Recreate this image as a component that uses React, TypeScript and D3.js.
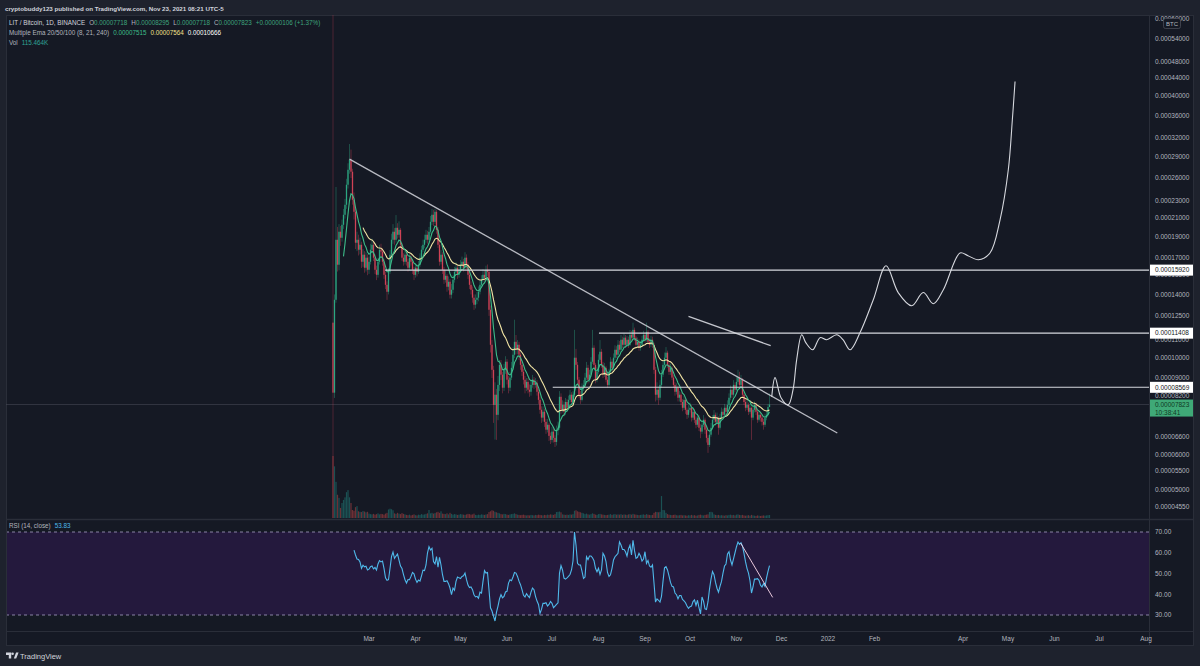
import React from "react";
import * as d3 from "d3";

// ---------- DATA (prices in satoshis, 1e-8 BTC) ----------
const firstDay = Date.UTC(2021, 1, 5);
const firstOpen = 12060;
const closes = [
8330, 13610, 18690, 16380, 19500, 18890, 20230, 21330, 22490, 25000,
27060, 28530, 26780, 23090, 21670, 18400, 18690, 17730, 18200, 16640,
17270, 16120, 17000, 15950, 16640, 17730, 18200, 17000, 15950, 15530,
16640, 17730, 17550, 16640, 15530, 14730, 14200, 15780, 17270, 18690,
19500, 18690, 19910, 19190, 19700, 18200, 17000, 16640, 17270, 16640,
16120, 17000, 16640, 15950, 15530, 16120, 15780, 16380, 17000, 17730,
18200, 18690, 19190, 18690, 19500, 20550, 21330, 20550, 21670, 19700,
18200, 16640, 17270, 15950, 15130, 15450, 14580, 14970, 13980, 14350,
15130, 15780, 16120, 15530, 15950, 16380, 16640, 16120, 17000, 16380,
15530, 14730, 14350, 13760, 13260, 13610, 13760, 14200, 14730, 15130,
15530, 15290, 15950, 15780, 12910, 10730, 9400, 7810, 8240, 7410,
8680, 9650, 9160, 8550, 9400, 9810, 8920, 8550, 9020, 9500,
10180, 10900, 10450, 10730, 10180, 9650, 9300, 8920, 8550, 8820,
8460, 8370, 8680, 8920, 8680, 8780, 8370, 8020, 7610, 7300,
7530, 7140, 6850, 7030, 6630, 6490, 6780, 6560, 6420, 6850,
6920, 8150, 7610, 7810, 7530, 7930, 7690, 8020, 8240, 7930,
8240, 10020, 9650, 8920, 8240, 8020, 8550, 8680, 9020, 9500,
8920, 9160, 9810, 10560, 9650, 8920, 9300, 9910, 10340, 9650,
9160, 9500, 8920, 8680, 9300, 9810, 9500, 10020, 10450, 10180,
10730, 10450, 11020, 10730, 11140, 10730, 11020, 10730, 11310, 11140,
11610, 11140, 10730, 10900, 10560, 10730, 11020, 11310, 11020, 11490,
10900, 10730, 11020, 10730, 9400, 8240, 8460, 8110, 8680, 9160,
9650, 10020, 10290, 9650, 9300, 9500, 9020, 8680, 8370, 8550,
8110, 8240, 7930, 7690, 8020, 7610, 7410, 7610, 7690, 7300,
7530, 7220, 7030, 7300, 6920, 6780, 7030, 7220, 6850, 6560,
6320, 6670, 6920, 7220, 7410, 7140, 7300, 6920, 7300, 7530,
7410, 7690, 7530, 7810, 8110, 8460, 8240, 8680, 8460, 8820,
9020, 8680, 8920, 8240, 7930, 7690, 7810, 7530, 7690, 7300,
7610, 7810, 7530, 7220, 7410, 7300, 7140, 7030, 7300, 7410,
7718, 7823,
];
const highs = [
90000, 14000, 24700, 20000, 20300, 20100, 20800, 22000, 23200, 25800,
28000, 31000, 30100, 27200, 24000, 22000, 19500, 19200, 18900, 18500,
17800, 17600, 17500, 17300, 17100, 18300, 18800, 18500, 17300, 16300,
17000, 18200, 18300, 17900, 16900, 15800, 15000, 16100, 17700, 19300,
20300, 19900, 21300, 20400, 20600, 19900, 18400, 17400, 17600, 17500,
16900, 17300, 17300, 16900, 16200, 16500, 16400, 16700, 17400, 18100,
18700, 19200, 19700, 19600, 20000, 21200, 22000, 21900, 22000, 21900,
20000, 18500, 17700, 17500, 16200, 15900, 15600, 15400, 15200, 14800,
15500, 16200, 16600, 16400, 16300, 16800, 17100, 16900, 17500, 17300,
16600, 15800, 15000, 14600, 14000, 14000, 14200, 14600, 15100, 15500,
16000, 15900, 16300, 16400, 16000, 13200, 11000, 9600, 8800, 8500,
9100, 9900, 9900, 9300, 9700, 10100, 9950, 9100, 9300, 9800,
10600, 12250, 11300, 11000, 10900, 10300, 9800, 9450, 9100, 9000,
9000, 8700, 8900, 9150, 9050, 9000, 8900, 8500, 8150, 7750,
7750, 7650, 7250, 7250, 7100, 6750, 6950, 6900, 6650, 7000,
7150, 8400, 8300, 8000, 7950, 8100, 8050, 8200, 8450, 8350,
8400, 11610, 10500, 9800, 9050, 8400, 8750, 8900, 9250, 9800,
9650, 9400, 10050, 11610, 10700, 9750, 9550, 10200, 11000, 10500,
9800, 9750, 9600, 9050, 9450, 10050, 9950, 10250, 10700, 10650,
11000, 10950, 11300, 11200, 11400, 11300, 11250, 11200, 11600, 11550,
12060, 11750, 11250, 11150, 11050, 10950, 11250, 11550, 11450, 12060,
11600, 11100, 11250, 11200, 10850, 9550, 8800, 8600, 8900, 9400,
9900, 10300, 10600, 10400, 9800, 9700, 9600, 9150, 8800, 8750,
8650, 8400, 8350, 8050, 8200, 8100, 7700, 7800, 7900, 7800,
7700, 7650, 7350, 7450, 7400, 7050, 7200, 7400, 7300, 6950,
6650, 6850, 7100, 7400, 7600, 7500, 7500, 7350, 7450, 7700,
7650, 7850, 7800, 8000, 8300, 8650, 8600, 8900, 8800, 9050,
9400, 9300, 9150, 9000, 8350, 8050, 8000, 7900, 7850, 7750,
7750, 7950, 7900, 7600, 7550, 7500, 7400, 7250, 7450, 7550,
7850, 8295,
];
const lows = [
3500, 8100, 13400, 15800, 15900, 18100, 18500, 19800, 20900, 22000,
24500, 26500, 25900, 22500, 20800, 17800, 17600, 17200, 17300, 16100,
16200, 15700, 15800, 15500, 15600, 16400, 17400, 16700, 15600, 15100,
15300, 16400, 17100, 16300, 15200, 14400, 13600, 14000, 15600, 17000,
18300, 18200, 18400, 18800, 18900, 17900, 16700, 16300, 16400, 16300,
15800, 15900, 16300, 15600, 15100, 15300, 15400, 15600, 16200, 16800,
17500, 17900, 18400, 18300, 18400, 19300, 20200, 20100, 20300, 19300,
17900, 16300, 16400, 15600, 14800, 14900, 14200, 14300, 13700, 13700,
14100, 14900, 15500, 15200, 15300, 15700, 16100, 15800, 15900, 16000,
15200, 14400, 14000, 13400, 12900, 13000, 13300, 13500, 14000, 14500,
14900, 15000, 15100, 15400, 12500, 10300, 9000, 7100, 6500, 6490,
7200, 8400, 8900, 8300, 8400, 9200, 8700, 8300, 8400, 8900,
9400, 10000, 10200, 10200, 9900, 9400, 9100, 8700, 8300, 8400,
8300, 8150, 8200, 8550, 8500, 8550, 8200, 7850, 7450, 7100,
7150, 6950, 6700, 6750, 6450, 6350, 6400, 6400, 6250, 6300,
6650, 6850, 7450, 7500, 7350, 7400, 7550, 7600, 7900, 7800,
7850, 8150, 9400, 8700, 8100, 7850, 7950, 8400, 8550, 8900,
8750, 8800, 9050, 9700, 9450, 8750, 8800, 9200, 9800, 9500,
9000, 9050, 8800, 8550, 8600, 9200, 9350, 9400, 9900, 10000,
10050, 10300, 10350, 10550, 10600, 10550, 10600, 10550, 10650, 10950,
11000, 10950, 10550, 10600, 10400, 10400, 10600, 10900, 10850, 10900,
10750, 10550, 10600, 10550, 9200, 7950, 8000, 7810, 8000, 8550,
9050, 9500, 9900, 9500, 9150, 9150, 8900, 8550, 8200, 8250,
7950, 7950, 7800, 7550, 7600, 7450, 7250, 7300, 7500, 7150,
7200, 7100, 6900, 6950, 6800, 6550, 6700, 6950, 6700, 6400,
6060, 6250, 6600, 6850, 7100, 7000, 7050, 6670, 6850, 7200,
7300, 7350, 7400, 7450, 7700, 8000, 8100, 8150, 8350, 8400,
8700, 8550, 8550, 8100, 7800, 7550, 7600, 7400, 7450, 6490,
7200, 7500, 7400, 7100, 7150, 7150, 7000, 6850, 6950, 7200,
7350, 7718,
];
// volume in thousands of LIT
const volumesK = [
2400, 2000, 1400, 900, 780, 390, 580, 700, 800, 1000,
1080, 800, 580, 310, 280, 420, 460, 260, 240, 230,
270, 250, 220, 240, 170, 150, 140, 160, 130, 150,
180, 140, 160, 150, 130, 170, 200, 330, 360, 340,
300, 180, 160, 200, 170, 150, 190, 160, 140, 120,
110, 130, 100, 120, 140, 110, 100, 130, 120, 150,
130, 140, 160, 180, 310, 180, 200, 170, 190, 220,
240, 200, 260, 170, 160, 150, 180, 140, 200, 160,
130, 150, 140, 120, 130, 150, 140, 130, 120, 140,
160, 150, 130, 140, 170, 120, 110, 130, 120, 140,
130, 120, 140, 150, 230, 260, 300, 280, 240, 220,
200, 180, 150, 140, 160, 150, 130, 120, 140, 150,
160, 180, 150, 130, 120, 110, 120, 130, 110, 100,
110, 100, 120, 110, 100, 120, 110, 130, 120, 110,
100, 120, 110, 130, 120, 140, 130, 120, 150, 230,
240, 250, 220, 140, 130, 120, 130, 120, 140, 130,
150, 280, 300, 260, 240, 220, 200, 180, 150, 170,
140, 130, 150, 180, 160, 130, 120, 150, 160, 140,
130, 120, 110, 120, 130, 150, 120, 140, 150, 130,
140, 130, 150, 120, 140, 130, 120, 140, 150, 130,
160, 140, 130, 120, 110, 120, 130, 140, 120, 150,
130, 120, 110, 120, 200, 240, 230, 220, 240, 850,
310, 300, 200, 150, 130, 120, 110, 120, 130, 110,
100, 110, 120, 100, 110, 100, 90, 110, 100, 120,
100, 110, 90, 100, 120, 130, 110, 100, 120, 130,
140, 230, 240, 220, 140, 120, 110, 120, 100, 110,
100, 90, 110, 100, 120, 130, 110, 120, 100, 130,
140, 120, 110, 120, 100, 90, 100, 110, 90, 120,
100, 90, 80, 100, 90, 80, 90, 100, 90, 100,
110, 115.464,
];
// RSI(14), from bar index 14 onward
const rsiStartIndex = 14;
const rsiValues = [
61.3, 58.9, 57.0, 56.8, 55.6, 52.5,
54.0, 53.2, 53.5, 51.7, 52.1, 53.3, 53.6, 52.2, 52.9, 51.7,
54.6, 56.2, 55.6, 56.0, 52.5, 47.9, 46.7, 47.0, 52.4, 58.1,
60.3, 57.3, 58.4, 59.4, 56.5, 53.6, 52.4, 49.5, 47.0, 45.4,
47.1, 47.0, 48.6, 50.5, 49.8, 47.3, 45.7, 46.8, 46.3, 48.9,
51.6, 51.4, 54.1, 60.0, 62.9, 61.3, 62.1, 55.7, 54.6, 58.1,
53.0, 57.8, 54.1, 49.4, 46.2, 46.2, 46.5, 45.1, 43.0, 39.8,
43.0, 41.9, 46.2, 48.3, 47.9, 47.6, 48.6, 48.9, 50.2, 47.0,
44.4, 43.2, 43.5, 42.2, 39.7, 38.7, 39.0, 38.1, 41.0, 40.6,
46.2, 51.4, 50.2, 50.5, 42.2, 33.5, 31.9, 29.5, 27.1, 31.4,
34.3, 37.8, 39.8, 38.3, 39.0, 41.1, 41.4, 45.4, 47.0, 46.5,
48.3, 50.5, 50.2, 48.6, 46.3, 44.6, 42.2, 39.5, 38.7, 40.3,
39.2, 38.4, 41.0, 43.0, 42.2, 39.0, 36.7, 35.1, 30.8, 32.7,
35.6, 35.6, 35.9, 34.3, 35.1, 36.5, 35.6, 33.5, 34.3, 35.1,
35.9, 50.2, 53.8, 51.7, 47.8, 47.3, 47.9, 48.6, 49.5, 51.7,
56.0, 70.0, 63.7, 54.9, 54.1, 54.1, 51.0, 47.6, 48.3, 58.1,
56.7, 58.4, 58.4, 57.6, 56.2, 52.5, 50.8, 52.5, 49.5, 51.7,
59.7, 58.4, 55.7, 50.5, 48.6, 49.4, 52.5, 56.5, 58.1, 58.9,
59.7, 65.2, 63.7, 61.6, 61.6, 60.5, 58.4, 61.9, 63.7, 58.9,
66.0, 61.0, 57.3, 57.8, 59.7, 58.4, 56.0, 57.0, 60.5, 54.9,
56.3, 53.6, 53.0, 54.1, 45.4, 36.2, 37.8, 37.1, 36.2, 39.0,
46.2, 52.7, 53.3, 51.7, 48.9, 45.7, 43.8, 43.5, 40.6, 39.8,
37.8, 39.4, 39.4, 37.5, 36.8, 35.9, 34.3, 33.2, 34.0, 34.3,
36.5, 37.3, 34.6, 37.1, 33.5, 30.5, 38.7, 36.7, 33.0, 32.7,
36.4, 42.5, 47.3, 51.0, 49.4, 45.7, 42.9, 41.0, 43.8, 46.2,
50.2, 53.6, 54.6, 59.4, 60.5, 56.5, 54.1, 57.0, 60.0, 62.9,
65.2, 64.0, 64.8, 63.2, 59.7, 55.7, 52.5, 50.2, 46.5, 40.6,
43.5, 47.3, 47.3, 47.5, 46.7, 44.4, 43.5, 45.1, 43.8, 47.8,
51.0, 53.83,
];

// axis ticks
const priceTicks = [
0.0006, 0.00054, 0.00048, 0.00044, 0.0004, 0.00036, 0.00032, 0.00029, 0.00026,
0.00023, 0.00021, 0.00019, 0.00017, 0.000155, 0.00014, 0.000125, 0.00011, 0.0001,
0.00009, 0.000082, 0.000066, 0.00006, 0.000055, 0.00005, 0.0000455,
];
const rsiTicks = [70, 60, 50, 40, 30];
const timeTickDates = [
"2021-03-01", "2021-04-01", "2021-05-01", "2021-06-01", "2021-07-01", "2021-08-01",
"2021-09-01", "2021-10-01", "2021-11-01", "2021-12-01", "2022-01-01", "2022-02-01",
"2022-04-01", "2022-05-01", "2022-06-01", "2022-07-01", "2022-08-01",
];
const timeTickLabels = ["Mar", "Apr", "May", "Jun", "Jul", "Aug", "Sep", "Oct", "Nov", "Dec", "2022", "Feb", "Apr", "May", "Jun", "Jul", "Aug"];

// drawings (anchors: days after 2021-03-01, price in BTC)
const trendDays = [-13, 312.2];
const trendPrices = [0.0002863, 0.0000673];
const shortDays = [213, 267.8];
const shortPrices = [0.0001247, 0.0001068];
const levelPrices = [0.0001592, 0.00011408, 0.00008569];
const levelStartDays = [10.7, 153.3, 122.5];
const rsiLineDays = [247.8, 269.1];
const rsiLineValues = [64.6, 38.5];
const projDays = [268.5, 270.7, 274.7, 279.5, 282.7, 285.1, 288.5, 291.3, 295.8, 300.7, 305.1, 311.8, 316, 320.7, 327.3, 336.2, 344.7, 352.9, 361.8, 369.5, 376.2, 382.9, 394, 399.3, 406.2, 414, 420.7, 426.2, 428.9, 430.7];
const projPrices = [8150, 9020, 8110, 7810, 8460, 9910, 11310, 10840, 10450, 11140, 11020, 11310, 11020, 10450, 11430, 13610, 16290, 14120, 13190, 14140, 13330, 14350, 17430, 17180, 16820, 17430, 20770, 27060, 35240, 43150];

const FONT = "'Liberation Sans', Arial, sans-serif";
const fmt8 = d3.format(".8f");

function emaSeries(vals: number[], n: number) {
  const k = 2 / (n + 1);
  const out: (number | null)[] = [];
  let prev = 0;
  vals.forEach((v, i) => {
    if (i < n - 1) { out.push(null); return; }
    if (i === n - 1) prev = d3.mean(vals.slice(0, n)) as number;
    else prev = v * k + prev * (1 - k);
    out.push(prev);
  });
  return out;
}

export default function App() {
  const L = 6, R = 1149, T = 15, B = 518;
  const base = Date.UTC(2021, 2, 1);
  const dayMs = 86400000;
  const x = d3.scaleUtc().domain([new Date(base), new Date(Date.UTC(2022, 7, 1))]).range([369, 1146]);
  const xd = (days: number) => x(new Date(base + days * dayMs));
  const y = d3.scaleLog().domain([0.00004295, 0.0006131]).range([B, T]);
  const ys = (sats: number) => y(sats / 1e8);
  const yv = d3.scaleLinear().domain([0, 2400]).range([B, 456]);
  const yr = d3.scaleLinear().domain([30, 70]).range([615, 532]);

  const dates = closes.map((_, i) => new Date(firstDay + i * dayMs));
  const opens = closes.map((_, i) => (i === 0 ? firstOpen : closes[i - 1]));
  const ema8 = emaSeries(closes, 8);
  const ema21 = emaSeries(closes, 21);

  const lineGen = d3.line<number | null>()
    .defined((d) => d !== null)
    .x((_, i) => x(dates[i]))
    .y((d) => ys(d as number));

  const rsiPath = d3.line<number>()
    .x((_, i) => x(dates[i + rsiStartIndex]))
    .y((d) => yr(d))(rsiValues) as string;

  const projPts = projDays.map((d, i) => [xd(d), ys(projPrices[i])] as [number, number]);
  const projPath = d3.line().curve(d3.curveCatmullRom.alpha(0.5))(projPts) as string;

  const up = "#2fb38a";
  const down = "#e0455a";
  const last = closes[closes.length - 1];
  const lastY = ys(last);

  return (
    <svg width={1200} height={666} style={{ position: "absolute", left: 0, top: 0, display: "block" }} fontFamily={FONT}>
      <defs>
        <clipPath id="mainClip"><rect x={L} y={T} width={R - L} height={B - T} /></clipPath>
        <clipPath id="rsiClip"><rect x={L} y={520} width={R - L} height={111} /></clipPath>
      </defs>
      <rect width={1200} height={666} fill="#1e222d" />
      <rect x={L} y={T} width={1194 - L} height={646 - T} fill="#151924" />

      {/* header */}
      <text x={5} y={10.5} fontSize={6.2} fill="#d1d4dc" fontWeight="bold">cryptobuddy123 published on TradingView.com, Nov 23, 2021 08:21 UTC-5</text>

      {/* RSI band */}
      <rect x={L} y={yr(70)} width={R - L} height={yr(30) - yr(70)} fill="#24193d" />
      {[70, 30].map((v) => (
        <line key={v} x1={L} x2={R} y1={yr(v)} y2={yr(v)} stroke="#a79fc4" strokeWidth={0.8} strokeDasharray="3,3" />
      ))}

      {/* separators */}
      <line x1={R + 0.5} x2={R + 0.5} y1={T} y2={646} stroke="#2a2e39" />
      <line x1={L} x2={1194} y1={519.5} y2={519.5} stroke="#2a2e39" strokeWidth={1.5} />
      <line x1={L} x2={1194} y1={631.5} y2={631.5} stroke="#2a2e39" />
      <rect x={L + 0.5} y={T + 0.5} width={1194 - L - 1} height={646 - T - 1} fill="none" stroke="#2a2e39" />

      <g clipPath="url(#mainClip)">
        {/* volume */}
        {volumesK.map((v, i) => (
          <rect key={"v" + i} x={x(dates[i]) - 0.6} y={yv(v)} width={1.2} height={B - yv(v)}
            fill={closes[i] >= opens[i] ? "#26a69a" : "#ef5350"} opacity={0.4} />
        ))}
        {/* last price line */}
        <line x1={L} x2={R} y1={lastY} y2={lastY} stroke="#4a4e5a" strokeWidth={0.7} opacity={0.8} />
        {/* candles */}
        {closes.map((c, i) => {
          const o = opens[i];
          const cx = x(dates[i]);
          const col = c >= o ? up : down;
          const y1 = ys(Math.max(o, c));
          const y2 = ys(Math.min(o, c));
          return (
            <g key={"c" + i}>
              <line x1={cx} x2={cx} y1={ys(highs[i])} y2={ys(lows[i])} stroke={col} strokeWidth={0.6} opacity={i === 0 ? 0.45 : 0.6} />
              <rect x={cx - 0.65} y={y1} width={1.3} height={Math.max(0.6, y2 - y1)} fill={col} opacity={0.88} />
            </g>
          );
        })}
        {/* EMAs */}
        <path d={lineGen(ema21) as string} fill="none" stroke="#f4e7a6" strokeWidth={1.1} />
        <path d={lineGen(ema8) as string} fill="none" stroke="#3dbd8a" strokeWidth={1.1} />

        {/* drawings */}
        <line x1={xd(trendDays[0])} y1={y(trendPrices[0])} x2={xd(trendDays[1])} y2={y(trendPrices[1])} stroke="#b8bac2" strokeWidth={1.3} />
        <line x1={xd(shortDays[0])} y1={y(shortPrices[0])} x2={xd(shortDays[1])} y2={y(shortPrices[1])} stroke="#c4c6cd" strokeWidth={1.2} />
        {levelPrices.map((p, i) => (
          <line key={"lv" + i} x1={xd(levelStartDays[i])} x2={R} y1={y(p)} y2={y(p)} stroke="#d6d8de" strokeWidth={1.1} />
        ))}
        <path d={projPath} fill="none" stroke="#d6d8de" strokeWidth={1.1} />
      </g>

      {/* RSI */}
      <g clipPath="url(#rsiClip)">
        <path d={rsiPath} fill="none" stroke="#4fb9ea" strokeWidth={1.1} />
        <line x1={xd(rsiLineDays[0])} y1={yr(rsiLineValues[0])} x2={xd(rsiLineDays[1])} y2={yr(rsiLineValues[1])} stroke="#e9c9dc" strokeWidth={1} />
      </g>

      {/* legends */}
      <text x={9} y={25} fontSize={6.3} fill="#b2b5be">
        <tspan fill="#d1d4dc">LIT / Bitcoin, 1D, BINANCE</tspan>
        <tspan dx={4}>O</tspan><tspan fill="#3ea57d">0.00007718</tspan>
        <tspan dx={4}>H</tspan><tspan fill="#3ea57d">0.00008295</tspan>
        <tspan dx={4}>L</tspan><tspan fill="#3ea57d">0.00007718</tspan>
        <tspan dx={4}>C</tspan><tspan fill="#3ea57d">0.00007823</tspan>
        <tspan dx={4} fill="#3ea57d">+0.00000106 (+1.37%)</tspan>
      </text>
      <text x={9} y={35} fontSize={6.3} fill="#b2b5be">
        <tspan>Multiple Ema 20/50/100 (8, 21, 240)</tspan>
        <tspan dx={4} fill="#3dbd8a">0.00007515</tspan>
        <tspan dx={4} fill="#f4e08a">0.00007564</tspan>
        <tspan dx={4} fill="#ffffff">0.00010666</tspan>
      </text>
      <text x={9} y={45} fontSize={6.3} fill="#b2b5be">
        <tspan>Vol</tspan>
        <tspan dx={4} fill="#2fa395">115.464K</tspan>
      </text>
      <text x={9} y={528} fontSize={6.3} fill="#b2b5be">
        <tspan>RSI (14, close)</tspan>
        <tspan dx={4} fill="#4fb9ea">53.83</tspan>
      </text>

      {/* price axis */}
      {priceTicks.map((p) => (
        <text key={"pt" + p} x={1155} y={y(p)} dy="0.35em" fontSize={6.5} fill="#b2b5be">{fmt8(p)}</text>
      ))}
      <rect x={1163.5} y={18.5} width={17} height={10} rx={2} fill="#151924" stroke="#50535e" strokeWidth={0.7} />
      <text x={1172} y={23.5} dy="0.35em" fontSize={6} fill="#b2b5be" textAnchor="middle">BTC</text>
      {levelPrices.map((p) => (
        <g key={"lb" + p}>
          <rect x={1150} y={y(p) - 5.5} width={43} height={11} fill="#ffffff" />
          <text x={1155} y={y(p)} dy="0.35em" fontSize={6.5} fill="#131722">{fmt8(p)}</text>
        </g>
      ))}
      <rect x={1150} y={lastY - 5} width={43} height={17} fill="#3fa977" />
      <text x={1155} y={lastY + 0.5} dy="0.35em" fontSize={6.5} fill="#0f3a24">{fmt8(last / 1e8)}</text>
      <text x={1155} y={lastY + 8.5} dy="0.35em" fontSize={6.5} fill="#0f3a24">10:38:41</text>

      {/* RSI axis */}
      {rsiTicks.map((v) => (
        <text key={"rt" + v} x={1155} y={yr(v)} dy="0.35em" fontSize={6.5} fill="#b2b5be">{v.toFixed(2)}</text>
      ))}

      {/* time axis */}
      {timeTickDates.map((d, i) => (
        <text key={"tt" + i} x={x(new Date(d + "T00:00:00Z"))} y={641} textAnchor="middle" fontSize={6.5} fill="#b2b5be">{timeTickLabels[i]}</text>
      ))}

      {/* footer logo */}
      <g fill="#d1d4dc">
        <path d="M6 652.5 h5.2 v6 h-2.4 v-3.6 h-2.8 z" />
        <circle cx={12.6} cy={653.8} r={1.3} />
        <path d="M13.8 658.5 l2.3 -6 h2.5 l-2.4 6 z" />
      </g>
      <text x={20} y={658.5} fontSize={7.5} fill="#d1d4dc">TradingView</text>
    </svg>
  );
}
